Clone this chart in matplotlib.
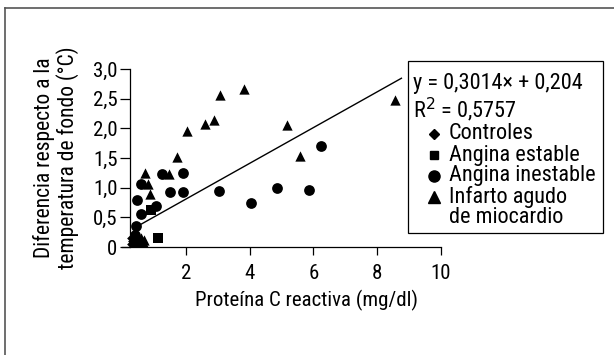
import matplotlib
matplotlib.use('Agg')
import matplotlib.pyplot as plt
from matplotlib.lines import Line2D
from matplotlib.patches import Rectangle
import numpy as np

plt.rcParams['font.family'] = ['Roboto Condensed', 'Liberation Sans Narrow', 'Liberation Sans', 'DejaVu Sans']

# datos
ctrl_x = [0.30, 0.35, 0.40, 0.45, 0.50, 0.32, 0.55]
ctrl_y = [0.05, 0.10, 0.02, 0.08, 0.12, 0.16, 0.04]
est_x = [0.40, 0.50, 1.13, 0.92]
est_y = [0.10, 0.05, 0.16, 0.62]
ines_x = [0.58, 0.47, 0.58, 0.43, 1.08, 1.24, 1.52, 1.90, 1.92, 3.03, 4.03, 4.87, 5.87, 6.25, 0.40, 0.45]
ines_y = [1.07, 0.79, 0.55, 0.35, 0.69, 1.23, 0.93, 1.25, 0.93, 0.95, 0.74, 0.99, 0.96, 1.70, 0.20, 0.10]
iam_x = [3.81, 3.08, 2.87, 2.60, 2.03, 1.73, 1.48, 0.73, 0.82, 0.87, 5.16, 5.57, 8.55,
         0.45, 0.50, 0.55, 0.60, 0.65, 0.70]
iam_y = [2.66, 2.56, 2.14, 2.07, 1.95, 1.52, 1.23, 1.25, 1.07, 0.90, 2.06, 1.53, 2.48,
         0.20, 0.10, 0.05, 0.15, 0.08, 0.12]
pendiente, intercepto = 0.3014, 0.204
x_recta = [0.4, 8.76]

fig = plt.figure(figsize=(6.14, 3.55), dpi=100)
ax = fig.add_axes([0.1987, 0.3042, 0.5195, 0.5014])

ax.scatter(ctrl_x, ctrl_y, marker='D', s=30, c='black', lw=0, zorder=3)
ax.scatter(est_x, est_y, marker='s', s=45, c='black', lw=0, zorder=3)
ax.scatter(ines_x, ines_y, marker='o', s=60, c='black', lw=0, zorder=3)
ax.scatter(iam_x, iam_y, marker='^', s=55, c='black', lw=0, zorder=3)
xr = np.array(x_recta)
ax.plot(xr, pendiente * xr + intercepto, color='black', lw=1)

ax.set_xlim(0, 10)
ax.set_ylim(0, 3)
ax.spines['top'].set_visible(False)
ax.spines['right'].set_visible(False)
ax.spines['left'].set_position(('data', 0.25))
ax.spines['left'].set_linewidth(0.9)
ax.spines['bottom'].set_linewidth(0.9)
ax.set_xticks([2, 4, 6, 8, 10])
ax.set_xticklabels(['2', '4', '6', '8', '10'])
ax.set_yticks([0, 0.5, 1, 1.5, 2, 2.5, 3])
ax.set_yticklabels(['0', '0,5', '1,0', '1,5', '2,0', '2,5', '3,0'])
ax.tick_params(axis='x', length=6, width=0.9, labelsize=15, pad=6)
ax.tick_params(axis='y', length=7, width=0.9, labelsize=15, pad=2)
ax.set_xlabel('Proteína C reactiva (mg/dl)', fontsize=15)
ax.xaxis.set_label_coords(0.577, -0.24)
ax.set_ylabel('Diferencia respecto a la\ntemperatura de fondo (°C)', fontsize=15.5,
              linespacing=1.05)
ax.yaxis.set_label_coords(-0.135, 0.5)

# recuadro de leyenda
W, H = 614, 355
def fx(px):
    return px / W
def fy(py):
    return 1 - py / H

fig.add_artist(Rectangle((fx(408), fy(233)), fx(603) - fx(408), fy(61) - fy(233),
                         transform=fig.transFigure, fill=False, ec='black', lw=0.9))
fig.text(fx(413), fy(84), 'y = 0,3014× + 0,204', fontsize=16, va='center')
fig.text(fx(413), fy(110), 'R$^2$ = 0,5757', fontsize=16, va='center')
entradas = [('D', 5, 'Controles', 134), ('s', 6, 'Angina estable', 155),
            ('o', 8, 'Angina inestable', 176), ('^', 8, 'Infarto agudo', 197)]
for m, ms, txt, py in entradas:
    fig.add_artist(Line2D([fx(434)], [fy(py)], marker=m, markersize=ms, color='black',
                          lw=0, transform=fig.transFigure))
    fig.text(fx(449), fy(py), txt, fontsize=16, va='center')
fig.text(fx(449), fy(218), 'de miocardio', fontsize=16, va='center')

# marco exterior
fig.add_artist(Line2D([fx(5), fx(5)], [0, fy(7.5)], color='#555555', lw=1.2,
                      transform=fig.transFigure))
fig.add_artist(Line2D([fx(5), 1], [fy(7.5), fy(7.5)], color='#555555', lw=1.2,
                      transform=fig.transFigure))

fig.savefig('out.png', dpi=100)
